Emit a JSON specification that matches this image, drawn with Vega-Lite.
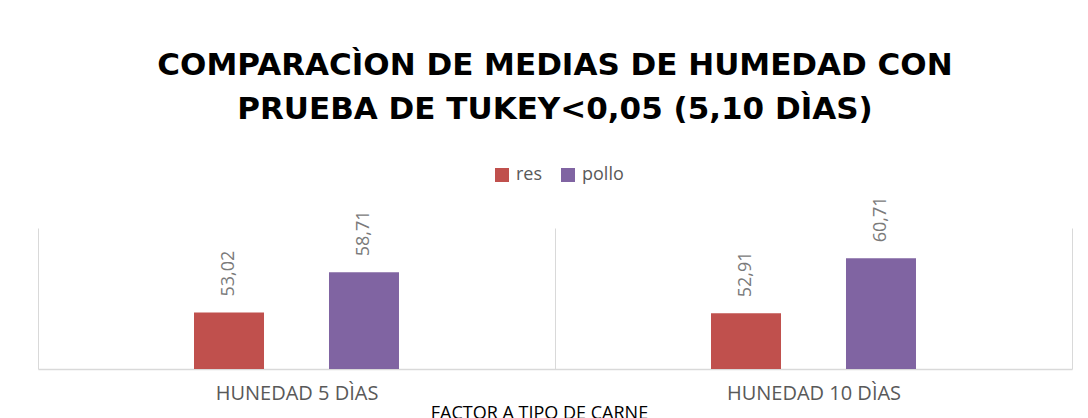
{
  "$schema": "https://vega.github.io/schema/vega-lite/v6.json",
  "autosize": "none",
  "width": 1034,
  "height": 141,
  "padding": {"left": 38, "top": 228, "right": 16, "bottom": 49},
  "background": "white",
  "title": {
    "text": ["COMPARACÌON DE MEDIAS DE HUMEDAD CON", "PRUEBA DE TUKEY<0,05 (5,10 DÌAS)"],
    "font": "DejaVu Sans",
    "fontSize": 31,
    "fontWeight": "bold",
    "color": "#000000",
    "anchor": "middle",
    "lineHeight": 44,
    "offset": 40
  },
  "data": {
    "values": [
      {"factor": "HUNEDAD 5 DÌAS", "carne": "res", "media": 53.02, "etiqueta": "53,02"},
      {"factor": "HUNEDAD 5 DÌAS", "carne": "pollo", "media": 58.71, "etiqueta": "58,71"},
      {"factor": "HUNEDAD 10 DÌAS", "carne": "res", "media": 52.91, "etiqueta": "52,91"},
      {"factor": "HUNEDAD 10 DÌAS", "carne": "pollo", "media": 60.71, "etiqueta": "60,71"}
    ]
  },
  "encoding": {
    "x": {
      "field": "factor",
      "type": "nominal",
      "sort": ["HUNEDAD 5 DÌAS", "HUNEDAD 10 DÌAS"],
      "scale": {"paddingInner": 0, "paddingOuter": 0},
      "axis": {
        "title": "FACTOR A TIPO DE CARNE",
        "titleFont": "Open Sans",
        "titleFontSize": 18,
        "titleFontWeight": "normal",
        "titleColor": "#000000",
        "titleX": 501,
        "titleY": 49,
        "titleAlign": "center",
        "titleBaseline": "alphabetic",
        "labelAngle": 0,
        "labelFont": "Open Sans",
        "labelFontSize": 20,
        "labelColor": "#595959",
        "labelPadding": 14,
        "ticks": false,
        "tickBand": "extent",
        "grid": true,
        "gridColor": "#d9d9d9",
        "gridWidth": 1,
        "domainColor": "#d9d9d9",
        "domainWidth": 1.5
      }
    },
    "xOffset": {
      "field": "carne",
      "type": "nominal",
      "sort": ["res", "pollo"],
      "scale": {"paddingInner": 0.17, "paddingOuter": 1}
    },
    "y": {
      "field": "media",
      "type": "quantitative",
      "scale": {"domain": [45, 65], "zero": false, "nice": false},
      "axis": null
    }
  },
  "layer": [
    {
      "mark": {"type": "bar", "width": 70},
      "encoding": {
        "y2": {"datum": 45},
        "color": {
          "field": "carne",
          "type": "nominal",
          "sort": ["res", "pollo"],
          "scale": {"domain": ["res", "pollo"], "range": ["#C0504D", "#8064A2"]},
          "legend": {
            "title": null,
            "orient": "none",
            "direction": "horizontal",
            "legendX": 455,
            "legendY": -62,
            "symbolType": "square",
            "symbolSize": 196,
            "symbolStrokeWidth": 0,
            "labelFont": "Open Sans",
            "labelFontSize": 18,
            "labelColor": "#595959",
            "labelOffset": 5,
            "columnPadding": 16
          }
        }
      }
    },
    {
      "mark": {
        "type": "text",
        "angle": 270,
        "align": "left",
        "baseline": "middle",
        "dx": 16,
        "font": "Open Sans",
        "fontSize": 18,
        "color": "#7a7a7a"
      },
      "encoding": {
        "text": {"field": "etiqueta", "type": "nominal"}
      }
    }
  ],
  "config": {
    "view": {"stroke": null}
  }
}
